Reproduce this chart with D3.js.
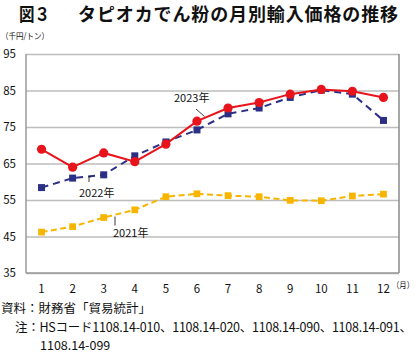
<!DOCTYPE html>
<html><head><meta charset="utf-8">
<script src="https://cdn.jsdelivr.net/npm/d3@7"></script>
<style>
html,body{margin:0;padding:0;background:#fff;}
svg{display:block;}
text{font-family:"Noto Sans CJK JP","Noto Sans",sans-serif;fill:#111;}
</style></head>
<body>
<svg id="chart" width="420" height="357"></svg>
<script>
const months = [1,2,3,4,5,6,7,8,9,10,11,12];
const yTicks = [35,45,55,65,75,85,95];
const s2023 = [68.9,64.0,67.9,65.5,70.3,76.6,80.2,81.7,84.0,85.3,84.8,83.1];
const s2022 = [58.4,61.0,61.9,67.1,70.9,74.2,78.6,80.2,83.1,85.1,84.0,76.8];
const s2021 = [46.2,47.7,50.2,52.3,55.9,56.7,56.2,55.9,54.9,54.8,56.1,56.6];
const seriesNames = ["2021年","2022年","2023年"];
const title1 = "図３";
const title2 = "タピオカでん粉の月別輸入価格の推移";
const unitLabel = "（千円/トン）";
const xUnit = "（月）";
const source = "資料：財務省「貿易統計」";
const note1 = "注：HSコード1108.14-010、1108.14-020、1108.14-090、1108.14-091、";
const note2 = "1108.14-099";

const svg = d3.select("#chart");
const L = 26, R = 399, T = 54, B = 273;
const x = d3.scaleBand().domain(months).range([L, R]);
const xc = m => x(m) + x.bandwidth()/2;
const y = d3.scaleLinear().domain([35,95]).range([B, T]);

// title
svg.append("text").attr("x", 19).attr("y", 21).attr("font-size", 18).attr("font-weight", 700)
  .attr("textLength", 31).attr("lengthAdjust","spacingAndGlyphs").text(title1);
svg.append("text").attr("x", 78).attr("y", 21).attr("font-size", 18).attr("font-weight", 700)
  .attr("textLength", 320).text(title2);
svg.append("text").attr("x", 1).attr("y", 39).attr("font-size", 8.5)
  .attr("textLength", 48).attr("lengthAdjust","spacingAndGlyphs").text(unitLabel);

// grid
const yAxis = d3.axisLeft(y).tickValues(yTicks).tickSize(-(R-L)).tickFormat(d3.format("d"));
const gy = svg.append("g").attr("transform", `translate(${L},0)`).call(yAxis);
gy.select(".domain").remove();
gy.selectAll(".tick line").attr("stroke", "#bdbdbd").attr("stroke-width", 1.5);
gy.selectAll(".tick text").attr("x", -10).attr("font-size", 11.5).attr("font-family","Liberation Sans, Arial, sans-serif").attr("fill","#111");

// frame
svg.append("line").attr("x1", L).attr("x2", L).attr("y1", T).attr("y2", B).attr("stroke", "#9a9a9a").attr("stroke-width", 1.5);
svg.append("line").attr("x1", R).attr("x2", R).attr("y1", T).attr("y2", B).attr("stroke", "#8a8a8a").attr("stroke-width", 1.5);
svg.append("line").attr("x1", L).attr("x2", R).attr("y1", B).attr("y2", B).attr("stroke", "#9a9a9a").attr("stroke-width", 1.5);

// x axis
const xAxis = d3.axisBottom(x).tickSize(0).tickFormat(d => d);
const gx = svg.append("g").attr("transform", `translate(0,${B})`).call(xAxis);
gx.select(".domain").remove();
gx.selectAll(".tick text").attr("y", 12).attr("font-size", 11.5).attr("font-family","Liberation Sans, Arial, sans-serif").attr("fill","#111");
svg.append("text").attr("x", 392).attr("y", 288).attr("font-size", 8.5)
  .attr("textLength", 22).attr("lengthAdjust","spacingAndGlyphs").text(xUnit);

const line = d3.line().x((d,i) => xc(months[i])).y(d => y(d));

// 2021
const c21 = "#f7b500";
svg.append("path").datum(s2021).attr("d", line).attr("fill","none").attr("stroke", c21).attr("stroke-width", 2).attr("stroke-dasharray","6,3.5");
svg.selectAll(".d21").data(s2021).join("path").attr("class","d21")
  .attr("d", d3.symbol(d3.symbolDiamond2, 58))
  .attr("transform",(d,i)=>`translate(${xc(months[i])},${y(d)}) rotate(45)`)
  .attr("fill", c21);

// 2022
const c22 = "#2b2f86";
svg.append("path").datum(s2022).attr("d", line).attr("fill","none").attr("stroke", c22).attr("stroke-width", 2).attr("stroke-dasharray","7,5");
svg.selectAll(".d22").data(s2022).join("rect").attr("class","d22")
  .attr("x",(d,i)=>xc(months[i])-3.5).attr("y", d=>y(d)-3.5).attr("width",7).attr("height",7)
  .attr("fill", c22);

// 2023
const c23 = "#e8141c";
svg.append("path").datum(s2023).attr("d", line).attr("fill","none").attr("stroke", c23).attr("stroke-width", 2);
svg.selectAll(".d23").data(s2023).join("circle").attr("class","d23")
  .attr("cx",(d,i)=>xc(months[i])).attr("cy", d=>y(d)).attr("r",4.6)
  .attr("fill", c23);

// annotations
const af = "Liberation Sans, Arial, sans-serif";
svg.append("text").attr("x",174).attr("y",101.5).attr("font-size",11).attr("font-family",af).text(seriesNames[2]);
svg.append("line").attr("x1",196).attr("y1",109).attr("x2",204.5).attr("y2",116.5).attr("stroke","#222").attr("stroke-width",0.9);
svg.append("text").attr("x",79).attr("y",197).attr("font-size",11).attr("font-family",af).text(seriesNames[1]);
svg.append("path").attr("d","M89,182 L89,176.8 L91,176.8").attr("fill","none").attr("stroke","#222").attr("stroke-width",0.9);
svg.append("text").attr("x",113).attr("y",237).attr("font-size",11).attr("font-family",af).text(seriesNames[0]);
svg.append("line").attr("x1",115).attr("y1",216.5).attr("x2",115).attr("y2",225.5).attr("stroke","#222").attr("stroke-width",0.9);

// footer
svg.append("text").attr("x",1).attr("y",313).attr("font-size",12.5).text(source);
svg.append("text").attr("x",15).attr("y",332).attr("font-size",12.5).attr("textLength",397).text(note1);
svg.append("text").attr("x",40).attr("y",350).attr("font-size",12.5).text(note2);
</script>
</body></html>
